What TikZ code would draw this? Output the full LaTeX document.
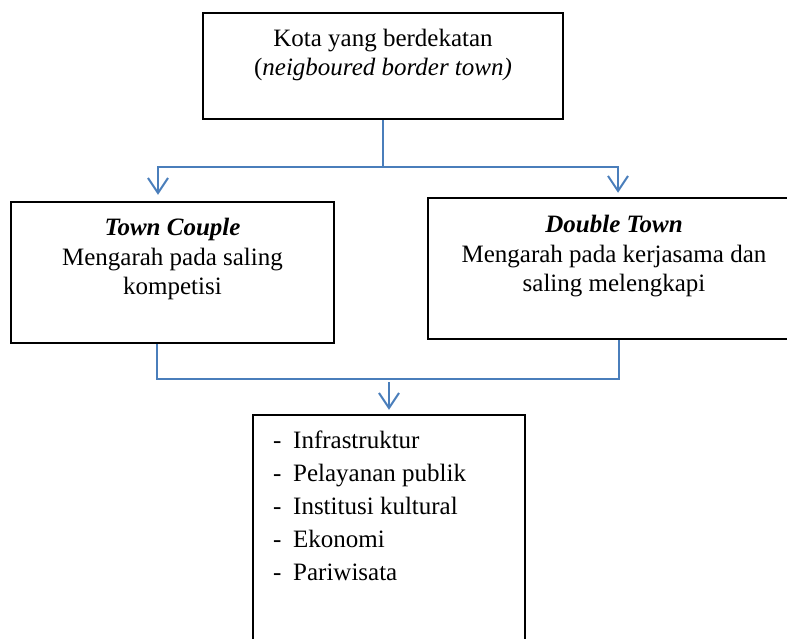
\documentclass[tikz,border=0pt]{standalone}
\usepackage{fontspec}
\setmainfont{Liberation Serif}
\usetikzlibrary{arrows.meta}

\begin{document}
\begin{tikzpicture}[x=1pt,y=-1pt,
	box/.style={draw,line width=2.5pt,inner sep=0pt},
	txt/.style={inner sep=0pt,align=center,font=\fontsize{25}{29.5}\selectfont},
	link/.style={draw=linkblue,line width=2pt},
	arrow/.style={link,-{Straight Barb[length=15pt,width=20pt,line width=2pt]}}]
	\definecolor{linkblue}{HTML}{4A7EBB}
	\useasboundingbox (0,0) rectangle (787,638);
	\node[box,minimum width=360pt,minimum height=106pt] (kota) at (383,66) {};
	\node[box,minimum width=323pt,minimum height=141pt] (couple) at (172.5,272.5) {};
	\node[box,minimum width=372pt,minimum height=141pt] (double) at (614,268.5) {};
	\node[box,minimum width=272pt,minimum height=240pt] (aspek) at (389,535) {};
	\node[txt,anchor=north] (kotatxt) at (383,28.5) {Kota yang berdekatan\\(\textit{neigboured border town)}};
	\node[txt,anchor=north] (coupletxt) at (172.5,218) {\textbf{\textit{Town Couple}}\\Mengarah pada saling\\kompetisi};
	\node[txt,anchor=north] (doubletxt) at (614,215) {\textbf{\textit{Double Town}}\\Mengarah pada kerjasama dan\\saling melengkapi};
	\foreach \item [count=\i] in {Infrastruktur,Pelayanan publik,Institusi kultural,Ekonomi,Pariwisata}
		\node[txt,anchor=base west] (item\i) at (273,{448+33*(\i-1)}) {\makebox[20pt][l]{-}\item};
	\coordinate (split) at (kota.south |- 0,167);
	\coordinate (join) at (aspek.north |- 0,379);
	\draw[link] (kota.south) -- (split);
	\draw[arrow] (split) -| ([xshift=-14.5pt,yshift=6pt]couple.north);
	\draw[arrow] (split) -| ([xshift=4pt,yshift=4pt]double.north);
	\draw[link] ([xshift=-15.5pt]couple.south) |- (join) -| ([xshift=4.5pt]double.south);
	\draw[arrow] ([yshift=-3pt]join) -- ([yshift=4pt]aspek.north);
\end{tikzpicture}
\end{document}
